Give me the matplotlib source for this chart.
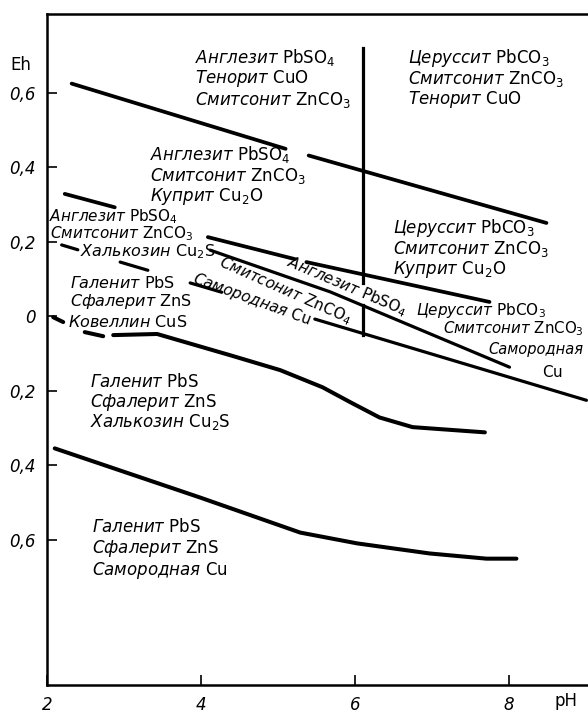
import numpy as np
import matplotlib
matplotlib.use("Agg")
import matplotlib.pyplot as plt

plt.rcParams['font.family'] = ['DejaVu Sans']
plt.rcParams['mathtext.fontset'] = 'dejavusans'

nan = np.nan

# stability field boundaries (pH, Eh); nan breaks a line where a label sits on it
line_a_ph = [2.32, 5.10, nan, 5.40, 8.49]
line_a_eh = [0.624, 0.449, nan, 0.431, 0.250]

line_b_ph = [2.23, 2.88, nan, 4.09, 5.22, nan, 5.37, 7.75]
line_b_eh = [0.328, 0.292, nan, 0.212, 0.153, nan, 0.145, 0.038]

line_c_ph = [4.12, 5.68, 8.01]
line_c_eh = [0.177, 0.065, -0.137]

line_d_ph = [2.19, 2.40, nan, 2.95, 3.31, nan, 3.86, 4.27, nan, 5.48, 9.01]
line_d_eh = [0.191, 0.178, nan, 0.145, 0.123, nan, 0.089, 0.064, nan, -0.008, -0.226]

vert_ph = [6.10, 6.10, nan, 6.10, 6.10]
vert_eh = [0.72, 0.09, nan, 0.030, -0.052]

line_e_ph = [2.08, 2.21, nan, 2.49, 2.73, nan, 2.86, 3.43, 4.38, 5.03, 5.58, 5.94, 6.32, 6.75, 7.69]
line_e_eh = [-0.003, -0.016, nan, -0.043, -0.054, nan, -0.051, -0.048, -0.105, -0.145,
             -0.191, -0.231, -0.272, -0.298, -0.312]

line_f_ph = [2.10, 3.99, 5.29, 6.03, 6.97, 7.71, 8.10]
line_f_eh = [-0.355, -0.487, -0.581, -0.610, -0.637, -0.651, -0.651]

# field labels: (pH, Eh, name, formula, size)
field_labels = [
    (3.92, 0.694, "Англезит", r"$\mathrm{PbSO_4}$", 12),
    (3.92, 0.637, "Тенорит", r"$\mathrm{CuO}$", 12),
    (3.92, 0.581, "Смитсонит", r"$\mathrm{ZnCO_3}$", 12),
    (6.69, 0.694, "Церуссит", r"$\mathrm{PbCO_3}$", 12),
    (6.69, 0.637, "Смитсонит", r"$\mathrm{ZnCO_3}$", 12),
    (6.69, 0.581, "Тенорит", r"$\mathrm{CuO}$", 12),
    (3.34, 0.433, "Англезит", r"$\mathrm{PbSO_4}$", 12),
    (3.34, 0.376, "Смитсонит", r"$\mathrm{ZnCO_3}$", 12),
    (3.34, 0.320, "Куприт", r"$\mathrm{Cu_2O}$", 12),
    (2.03, 0.266, "Англезит", r"$\mathrm{PbSO_4}$", 11),
    (2.04, 0.220, "Смитсонит", r"$\mathrm{ZnCO_3}$", 11),
    (2.43, 0.172, "Халькозин", r"$\mathrm{Cu_2S}$", 11.5),
    (2.30, 0.089, "Галенит", r"$\mathrm{PbS}$", 11.5),
    (2.30, 0.038, "Сфалерит", r"$\mathrm{ZnS}$", 11.5),
    (2.27, -0.016, "Ковеллин", r"$\mathrm{CuS}$", 11.5),
    (6.49, 0.237, "Церуссит", r"$\mathrm{PbCO_3}$", 12),
    (6.49, 0.180, "Смитсонит", r"$\mathrm{ZnCO_3}$", 12),
    (6.49, 0.124, "Куприт", r"$\mathrm{Cu_2O}$", 12),
    (6.80, 0.016, "Церуссит", r"$\mathrm{PbCO_3}$", 11),
    (7.15, -0.034, "Смитсонит", r"$\mathrm{ZnCO_3}$", 10.8),
    (7.74, -0.089, "Самородная", "", 10.5),
    (8.43, -0.151, "", r"$\mathrm{Cu}$", 11),
    (2.56, -0.177, "Галенит", r"$\mathrm{PbS}$", 12),
    (2.56, -0.231, "Сфалерит", r"$\mathrm{ZnS}$", 12),
    (2.56, -0.285, "Халькозин", r"$\mathrm{Cu_2S}$", 12),
    (2.58, -0.567, "Галенит", r"$\mathrm{PbS}$", 12),
    (2.58, -0.624, "Сфалерит", r"$\mathrm{ZnS}$", 12),
    (2.58, -0.683, "Самородная", r"$\mathrm{Cu}$", 12),
]

# labels laid along the sloping boundaries: (pH, Eh, angle, text)
slanted_labels = [
    (5.90, 0.078, -23, r"Англезит $\mathrm{PbSO_4}$"),
    (5.09, 0.068, -24, r"Смитсонит $\mathrm{ZnCO_4}$"),
    (4.66, 0.046, -20, r"Самородная $\mathrm{Cu}$"),
]

x_ticks = [2, 4, 6, 8]
x_tick_labels = ["2", "4", "6", "8"]
y_ticks = [-0.6, -0.4, -0.2, 0.0, 0.2, 0.4, 0.6]
y_tick_labels = ["0,6", "0,4", "0,2", "0", "0,2", "0,4", "0,6"]

fig = plt.figure(figsize=(5.88, 7.15), dpi=100)
ax = fig.add_axes([0.080, 0.042, 0.920, 0.938])
ax.set_xlim(2.0, 9.03)
ax.set_ylim(-0.99, 0.81)

lw = 2.3
ax.plot(line_a_ph, line_a_eh, color='black', lw=lw + 0.4, solid_capstyle='round')
ax.plot(line_b_ph, line_b_eh, color='black', lw=lw + 0.4, solid_capstyle='round')
ax.plot(line_c_ph, line_c_eh, color='black', lw=lw, solid_capstyle='round')
ax.plot(line_d_ph, line_d_eh, color='black', lw=lw, solid_capstyle='round')
ax.plot(vert_ph, vert_eh, color='black', lw=lw)
ax.plot(line_e_ph, line_e_eh, color='black', lw=lw + 0.6, solid_capstyle='round')
ax.plot(line_f_ph, line_f_eh, color='black', lw=lw + 0.6, solid_capstyle='round')

fs = 12
for x, y, name, formula, size in field_labels:
    txt = (name + " " + formula).strip()
    ax.text(x, y, txt, fontsize=size, style='italic', ha='left', va='center')

for x, y, ang, txt in slanted_labels:
    ax.text(x, y, txt, fontsize=fs - 1, style='italic', rotation=ang,
            rotation_mode='anchor', ha='center', va='center')

ax.spines['right'].set_visible(False)
for side in ['left', 'top', 'bottom']:
    ax.spines[side].set_linewidth(1.8)

ax.set_xticks(x_ticks)
ax.set_xticklabels(x_tick_labels, fontsize=fs, style='italic')
ax.set_yticks(y_ticks)
ax.set_yticklabels(y_tick_labels, fontsize=fs, style='italic')
ax.tick_params(direction='in', length=7, width=1.2, pad=8)

ax.text(1.66, 0.675, "Eh", fontsize=fs, ha='center', va='center', clip_on=False)
ax.text(8.74, -1.032, "pH", fontsize=fs, ha='center', va='center', clip_on=False)

fig.savefig("out.png", dpi=100)
